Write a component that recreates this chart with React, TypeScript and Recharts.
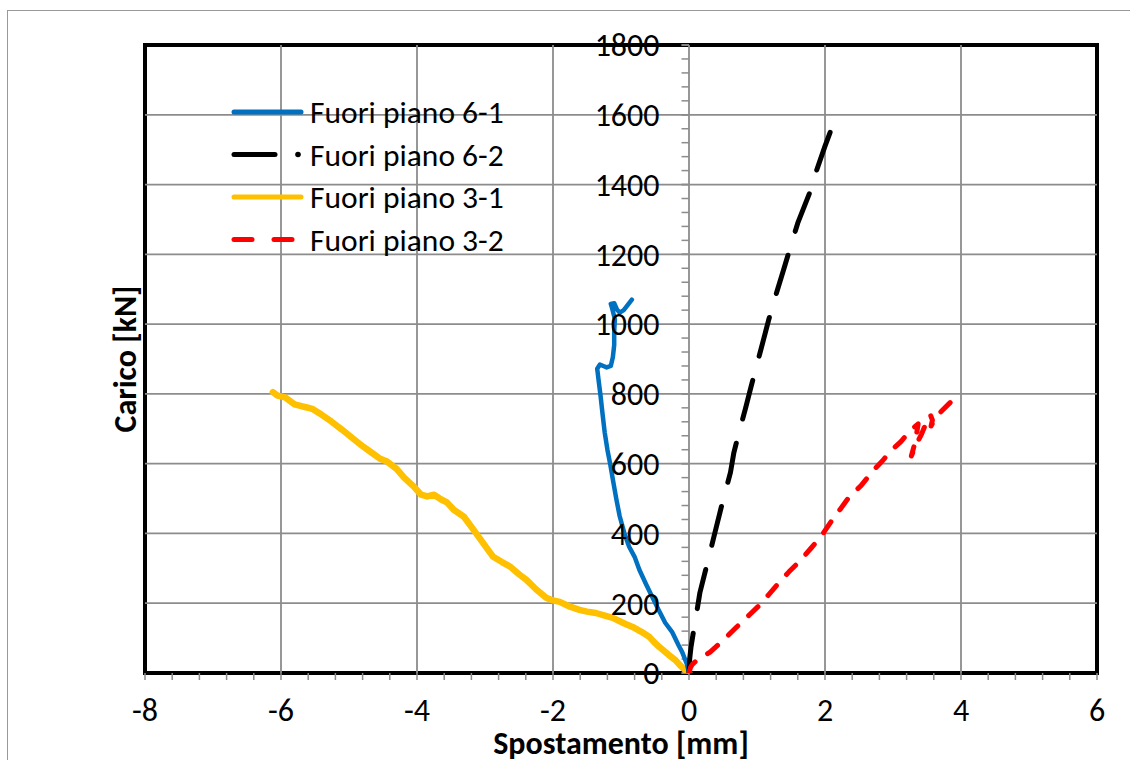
import React from 'react';
import { LineChart, Line, XAxis, YAxis, ReferenceLine, ReferenceArea, Legend } from 'recharts';

const FONT = 'Carlito, Calibri, Lato, sans-serif';

// Fuori piano 6-1 (blue)
const fuori61 = [
  { x: 0, y: 0 }, { x: -0.03, y: 25 }, { x: -0.1, y: 60 }, { x: -0.15, y: 78 }, { x: -0.25, y: 118 },
  { x: -0.35, y: 144 }, { x: -0.45, y: 182 }, { x: -0.54, y: 218 }, { x: -0.64, y: 258 }, { x: -0.73, y: 296 },
  { x: -0.8, y: 333 }, { x: -0.88, y: 362 }, { x: -0.95, y: 400 }, { x: -1.02, y: 450 }, { x: -1.07, y: 500 },
  { x: -1.12, y: 555 }, { x: -1.16, y: 600 }, { x: -1.2, y: 640 }, { x: -1.24, y: 690 }, { x: -1.27, y: 740 },
  { x: -1.3, y: 793 }, { x: -1.33, y: 840 }, { x: -1.35, y: 872 }, { x: -1.31, y: 884 }, { x: -1.26, y: 880 },
  { x: -1.21, y: 876 }, { x: -1.15, y: 880 }, { x: -1.12, y: 905 }, { x: -1.1, y: 940 }, { x: -1.1, y: 980 },
  { x: -1.09, y: 1014 }, { x: -1.13, y: 1045 }, { x: -1.15, y: 1058 }, { x: -1.1, y: 1060 }, { x: -1.06, y: 1042 },
  { x: -1.02, y: 1033 }, { x: -0.96, y: 1040 }, { x: -0.9, y: 1055 }, { x: -0.84, y: 1070 },
];

// Fuori piano 6-2 (black)
const fuori62 = [
  { x: 0, y: 0 }, { x: 0.01, y: 40 }, { x: 0.03, y: 75 }, { x: 0.07, y: 124 }, { x: 0.11, y: 170 },
  { x: 0.16, y: 230 }, { x: 0.25, y: 300 }, { x: 0.33, y: 362 }, { x: 0.4, y: 417 }, { x: 0.5, y: 495 },
  { x: 0.61, y: 575 }, { x: 0.66, y: 632 }, { x: 0.75, y: 700 }, { x: 0.83, y: 758 }, { x: 0.91, y: 819 },
  { x: 1.0, y: 885 }, { x: 1.09, y: 951 }, { x: 1.17, y: 1011 }, { x: 1.28, y: 1085 }, { x: 1.39, y: 1155 },
  { x: 1.47, y: 1207 }, { x: 1.6, y: 1290 }, { x: 1.78, y: 1379 }, { x: 1.87, y: 1437 }, { x: 2.0, y: 1510 },
  { x: 2.15, y: 1589 },
];

// Fuori piano 3-1 (yellow)
const fuori31 = [
  { x: 0, y: 0 }, { x: -0.06, y: 9 }, { x: -0.13, y: 22 }, { x: -0.2, y: 37 }, { x: -0.3, y: 52 },
  { x: -0.44, y: 75 }, { x: -0.52, y: 90 }, { x: -0.58, y: 103 }, { x: -0.7, y: 118 }, { x: -0.83, y: 132 },
  { x: -0.95, y: 142 }, { x: -1.12, y: 158 }, { x: -1.25, y: 165 }, { x: -1.37, y: 172 }, { x: -1.5, y: 176 },
  { x: -1.61, y: 181 }, { x: -1.75, y: 190 }, { x: -1.9, y: 204 }, { x: -2.0, y: 208 }, { x: -2.1, y: 216 },
  { x: -2.25, y: 240 }, { x: -2.39, y: 267 }, { x: -2.5, y: 283 }, { x: -2.63, y: 305 }, { x: -2.75, y: 318 },
  { x: -2.88, y: 333 }, { x: -3.0, y: 365 }, { x: -3.17, y: 411 }, { x: -3.31, y: 448 }, { x: -3.46, y: 468 },
  { x: -3.56, y: 489 }, { x: -3.65, y: 498 }, { x: -3.75, y: 511 }, { x: -3.85, y: 506 }, { x: -3.94, y: 511 },
  { x: -4.05, y: 535 }, { x: -4.19, y: 560 }, { x: -4.3, y: 585 }, { x: -4.44, y: 606 }, { x: -4.55, y: 615 },
  { x: -4.67, y: 632 }, { x: -4.8, y: 650 }, { x: -4.96, y: 675 }, { x: -5.1, y: 697 }, { x: -5.26, y: 721 },
  { x: -5.4, y: 740 }, { x: -5.53, y: 756 }, { x: -5.62, y: 761 }, { x: -5.7, y: 765 }, { x: -5.8, y: 770 },
  { x: -5.94, y: 790 }, { x: -6.05, y: 795 }, { x: -6.12, y: 805 },
];

// Fuori piano 3-2 (red)
const fuori32 = [
  { x: 0, y: 0 }, { x: 0.02, y: 15 }, { x: 0.05, y: 25 }, { x: 0.09, y: 32 }, { x: 0.2, y: 46 },
  { x: 0.31, y: 60 }, { x: 0.51, y: 95 }, { x: 0.67, y: 126 }, { x: 0.89, y: 167 }, { x: 1.04, y: 195 },
  { x: 1.17, y: 224 }, { x: 1.31, y: 256 }, { x: 1.47, y: 290 }, { x: 1.65, y: 325 }, { x: 1.8, y: 359 },
  { x: 1.94, y: 391 }, { x: 2.09, y: 434 }, { x: 2.23, y: 471 }, { x: 2.36, y: 506 }, { x: 2.53, y: 537 },
  { x: 2.72, y: 583 }, { x: 2.85, y: 609 }, { x: 2.96, y: 635 }, { x: 3.12, y: 664 }, { x: 3.27, y: 698 },
  { x: 3.37, y: 714 }, { x: 3.33, y: 665 }, { x: 3.27, y: 622 }, { x: 3.33, y: 650 }, { x: 3.42, y: 685 },
  { x: 3.5, y: 722 }, { x: 3.55, y: 740 }, { x: 3.58, y: 725 }, { x: 3.56, y: 708 }, { x: 3.62, y: 730 },
  { x: 3.7, y: 748 }, { x: 3.84, y: 775 },
];

const seriesNames = ['Fuori piano 6-1', 'Fuori piano 6-2', 'Fuori piano 3-1', 'Fuori piano 3-2'];
const seriesColors = ['#0070C0', '#000000', '#FFC000', '#FF0000'];

const xTicks = Array.from({ length: 36 }, (_, i) => Math.round((-8 + 0.4 * i) * 10) / 10);
const xLabelValues = [-8, -6, -4, -2, 0, 2, 4, 6];
const yLabelValues = [0, 200, 400, 600, 800, 1000, 1200, 1400, 1600, 1800];
const yMinorTicks = Array.from({ length: 46 }, (_, i) => i * 40);
const xGridValues = [-6, -4, -2, 2, 4];
const yGridValues = [200, 400, 600, 800, 1000, 1200, 1400, 1600];

const GRID = '#8c8c8c';
const TICK_FS = 32;
const LEGEND_FS = 31.5;
const TITLE_FS = 32;

const fmtX = (v: number) => (xLabelValues.some((l) => Math.abs(l - v) < 1e-6) ? String(Math.round(v)) : '');

const renderLegend = () => (
  <svg width={320} height={180} style={{ overflow: 'visible', display: 'block' }}>
    {seriesNames.map((name, i) => {
      const cy = 24 + i * 42.5;
      const color = seriesColors[i];
      let sample: React.ReactNode;
      if (i === 1) {
        sample = (
          <g>
            <line x1={6} x2={47} y1={cy} y2={cy} stroke={color} strokeWidth={5} strokeLinecap="round" />
            <circle cx={70} cy={cy} r={2.8} fill={color} />
          </g>
        );
      } else if (i === 3) {
        sample = (
          <g>
            <line x1={6} x2={24} y1={cy} y2={cy} stroke={color} strokeWidth={5} strokeLinecap="round" />
            <line x1={46} x2={64} y1={cy} y2={cy} stroke={color} strokeWidth={5} strokeLinecap="round" />
          </g>
        );
      } else {
        sample = <line x1={6} x2={73} y1={cy} y2={cy} stroke={color} strokeWidth={5} strokeLinecap="round" />;
      }
      return (
        <g key={name}>
          {sample}
          <text x={82} y={cy} dominantBaseline="central" fontSize={LEGEND_FS} fontFamily={FONT} fill="#000">
            {name}
          </text>
        </g>
      );
    })}
  </svg>
);

export default function App() {
  return (
    <div style={{ position: 'absolute', left: 0, top: 0, width: 1130, height: 760, overflow: 'hidden', background: '#fff' }}>
      <div
        style={{
          position: 'absolute', left: 7, top: 10, width: 1200, height: 800,
          borderLeft: '1.5px solid #999', borderTop: '1.5px solid #999',
        }}
      />
      <div style={{ position: 'absolute', left: 0, top: 0 }}>
        <LineChart width={1130} height={760} margin={{ top: 45, right: 33, left: 0, bottom: 0 }}>
          <XAxis
            type="number"
            dataKey="x"
            domain={[-8, 6]}
            ticks={xTicks}
            interval={0}
            allowDataOverflow
            tickFormatter={fmtX}
            tickSize={7}
            tickMargin={18}
            tickLine={{ stroke: GRID, strokeWidth: 1.5 }}
            axisLine={false}
            tick={{ fill: '#000', fontSize: TICK_FS, fontFamily: FONT }}
            height={87}
            label={{
              value: 'Spostamento [mm]', position: 'insideBottom', offset: 6,
              style: { fontWeight: 700, fontSize: TITLE_FS, fontFamily: FONT, fill: '#000' },
            }}
          />
          <YAxis
            type="number"
            domain={[0, 1800]}
            allowDataOverflow
            width={145}
            tick={false}
            tickLine={false}
            axisLine={false}
            label={{
              value: 'Carico [kN]', angle: -90, position: 'insideLeft', offset: 125,
              style: { textAnchor: 'middle', fontWeight: 700, fontSize: TITLE_FS, fontFamily: FONT, fill: '#000' },
            }}
          />
          {xGridValues.map((v) => (
            <ReferenceLine key={'gx' + v} x={v} stroke={GRID} strokeWidth={1.8} />
          ))}
          {yGridValues.map((v) => (
            <ReferenceLine key={'gy' + v} y={v} stroke={GRID} strokeWidth={1.8} />
          ))}
          <ReferenceLine x={0} stroke={GRID} strokeWidth={1.8} />
          {yMinorTicks.map((v) => (
            <ReferenceLine
              key={'ym' + v}
              segment={[{ x: -0.11, y: v }, { x: 0, y: v }]}
              stroke={GRID}
              strokeWidth={1.5}
            />
          ))}
          {yLabelValues.map((v) => (
            <ReferenceLine
              key={'yl' + v}
              segment={[{ x: -0.11, y: v }, { x: 0, y: v }]}
              stroke={GRID}
              strokeWidth={1.5}
              label={{
                value: String(v), position: 'left', offset: 22,
                style: { fill: '#000', fontSize: TICK_FS, fontFamily: FONT },
              }}
            />
          ))}
          <ReferenceArea x1={-8} x2={6} y1={0} y2={1800} fill="none" fillOpacity={0} stroke="#000" strokeWidth={4} />
          <Line data={fuori31} dataKey="y" name={seriesNames[2]} type="linear" stroke={seriesColors[2]} strokeWidth={6.5}
            dot={false} isAnimationActive={false} strokeLinecap="round" strokeLinejoin="round" />
          <Line data={fuori61} dataKey="y" name={seriesNames[0]} type="linear" stroke={seriesColors[0]} strokeWidth={4.5}
            dot={false} isAnimationActive={false} strokeLinecap="round" strokeLinejoin="round" />
          <Line data={fuori62} dataKey="y" name={seriesNames[1]} type="linear" stroke={seriesColors[1]} strokeWidth={5}
            strokeDasharray="40 25" dot={false} isAnimationActive={false} strokeLinecap="round" strokeLinejoin="round" />
          <Line data={fuori32} dataKey="y" name={seriesNames[3]} type="linear" stroke={seriesColors[3]} strokeWidth={5}
            strokeDasharray="13 15" dot={false} isAnimationActive={false} strokeLinecap="round" strokeLinejoin="round" />
          <Legend
            layout="horizontal"
            verticalAlign="middle"
            align="center"
            content={renderLegend}
            wrapperStyle={{ left: 228, top: 88, width: 320, height: 180 }}
          />
        </LineChart>
      </div>
    </div>
  );
}
